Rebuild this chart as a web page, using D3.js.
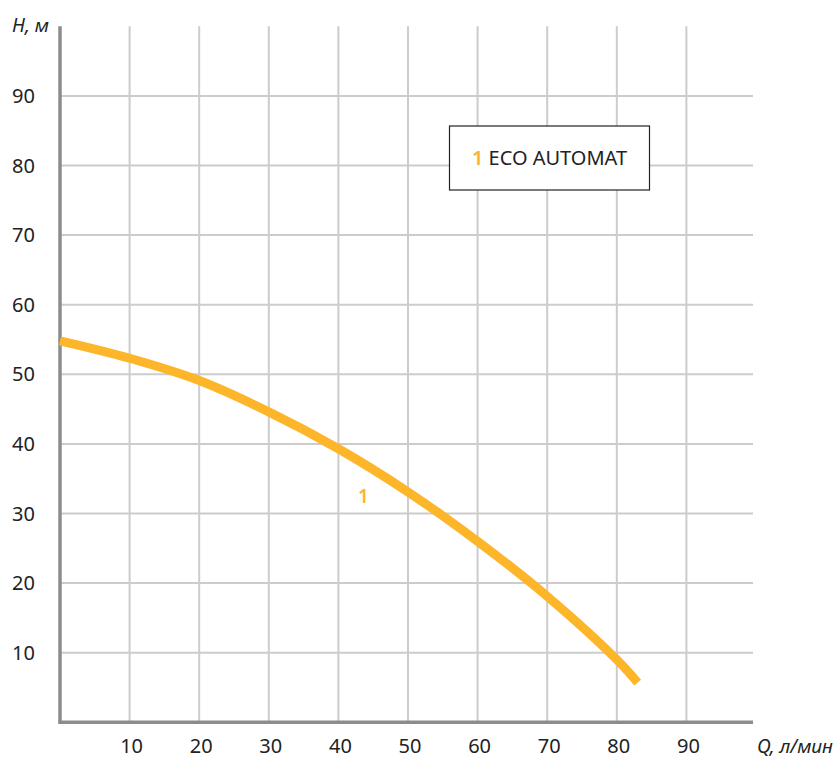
<!DOCTYPE html>
<html>
<head>
<meta charset="utf-8">
<script src="https://cdn.jsdelivr.net/npm/d3@7"></script>
<style>
  html, body { margin: 0; padding: 0; background: #fff; }
  svg { display: block; }
</style>
</head>
<body>
<div id="chart"></div>
<script>
// Pump curve
const flow = [0, 10, 20, 30, 40, 50, 60, 70, 80, 83];
const head = [54.8, 52.3, 49.1, 44.6, 39.3, 33.1, 26.0, 18.1, 9.0, 5.7];
const xTicks = [10, 20, 30, 40, 50, 60, 70, 80, 90];
const yTicks = [10, 20, 30, 40, 50, 60, 70, 80, 90];
const seriesName = 'ECO AUTOMAT';
const seriesId = '1';

const width = 836, height = 760;
const curveColor = '#fdb52a';
const font = '"Noto Sans", sans-serif';

const svg = d3.select('#chart')
    .append('svg')
    .attr('width', width)
    .attr('height', height);

const x = d3.scaleLinear().domain([0, 100]).range([60, 756]);
const y = d3.scaleLinear().domain([0, 100]).range([722.3, 26.3]);

// grid
svg.append('g')
    .selectAll('line')
    .data(xTicks)
    .join('line')
    .attr('x1', d => x(d)).attr('x2', d => x(d))
    .attr('y1', y(100)).attr('y2', y(0))
    .attr('stroke', '#cccccc')
    .attr('stroke-width', 2);

svg.append('g')
    .selectAll('line')
    .data(yTicks)
    .join('line')
    .attr('x1', x(0)).attr('x2', 753)
    .attr('y1', d => y(d)).attr('y2', d => y(d))
    .attr('stroke', '#cccccc')
    .attr('stroke-width', 2);

// axes lines
svg.append('line')
    .attr('x1', x(0)).attr('x2', x(0))
    .attr('y1', y(100)).attr('y2', y(0) + 1.5)
    .attr('stroke', '#8c8c8c')
    .attr('stroke-width', 3.5);

svg.append('line')
    .attr('x1', x(0) - 1.5).attr('x2', 753)
    .attr('y1', y(0)).attr('y2', y(0))
    .attr('stroke', '#8c8c8c')
    .attr('stroke-width', 3.5);

// tick labels
svg.append('g')
    .selectAll('text')
    .data(xTicks)
    .join('text')
    .attr('x', d => x(d) + 2)
    .attr('y', 753)
    .attr('text-anchor', 'middle')
    .style('font-family', font)
    .style('font-size', '20px')
    .style('fill', '#222')
    .text(d => d);

svg.append('g')
    .selectAll('text')
    .data(yTicks)
    .join('text')
    .attr('x', 35)
    .attr('y', d => y(d))
    .attr('dy', '0.35em')
    .attr('text-anchor', 'end')
    .style('font-family', font)
    .style('font-size', '20px')
    .style('fill', '#222')
    .text(d => d);

// axis titles
svg.append('text')
    .attr('x', 49)
    .attr('y', 32)
    .attr('text-anchor', 'end')
    .style('font-family', font)
    .style('font-style', 'italic')
    .style('font-size', '19px')
    .style('fill', '#222')
    .text('H, м');

svg.append('text')
    .attr('x', 833)
    .attr('y', 753)
    .attr('text-anchor', 'end')
    .style('font-family', font)
    .style('font-style', 'italic')
    .style('font-size', '19px')
    .style('fill', '#222')
    .text('Q, л/мин');

// curve
const pts = flow.map((q, i) => [q, head[i]]);
const line = d3.line()
    .x(d => x(d[0]))
    .y(d => y(d[1]))
    .curve(d3.curveCatmullRom.alpha(0.5));

svg.append('path')
    .datum(pts)
    .attr('d', line)
    .attr('fill', 'none')
    .attr('stroke', curveColor)
    .attr('stroke-width', 9);

// curve label
svg.append('text')
    .attr('x', x(43.6))
    .attr('y', y(32.5))
    .attr('dy', '0.35em')
    .attr('text-anchor', 'middle')
    .style('font-family', font)
    .style('font-weight', '600')
    .style('font-size', '19px')
    .style('fill', curveColor)
    .text(seriesId);

// legend box
const legend = svg.append('g');
legend.append('rect')
    .attr('x', 449.5).attr('y', 126)
    .attr('width', 200).attr('height', 64)
    .attr('fill', '#fff')
    .attr('stroke', '#222')
    .attr('stroke-width', 1.2);

const lt = legend.append('text')
    .attr('x', 549.5)
    .attr('y', 158)
    .attr('dy', '0.35em')
    .attr('text-anchor', 'middle')
    .style('font-family', font)
    .style('font-size', '20px')
    .style('fill', '#222');
lt.append('tspan').style('fill', curveColor).style('font-weight', '600').text(seriesId + ' ');
lt.append('tspan').text(seriesName);
</script>
</body>
</html>
